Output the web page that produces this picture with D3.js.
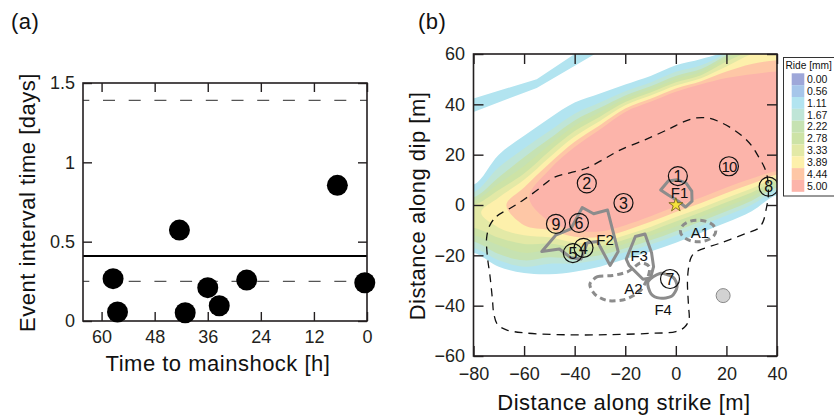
<!DOCTYPE html>
<html>
<head>
<meta charset="utf-8">
<script src="https://cdn.jsdelivr.net/npm/d3@7"></script>
<style>
  html, body { margin: 0; padding: 0; background: #fff; }
  svg { display: block; font-family: "Liberation Sans", Arial, Helvetica, sans-serif; }
</style>
</head>
<body>
<svg id="chart" width="834" height="416"></svg>
<script>
// ---------------- Panel (a): event interval times ----------------
const hoursToMainshock = [57.4, 56.4, 42.4, 41.1, 36.0, 33.4, 27.2, 6.7, 0.5];
const intervalDays     = [0.267, 0.057, 0.573, 0.052, 0.21, 0.096, 0.258, 0.855, 0.241];
const meanInterval = 0.41;
const intervalBounds = [1.39, 0.25];
const hourTicks = [60, 48, 36, 24, 12, 0];
const dayTicks = [0, 0.5, 1, 1.5];

// ---------------- Panel (b): slip on the fault plane ----------------
const strikeTicks = [-80, -60, -40, -20, 0, 20, 40];
const dipTicks = [-60, -40, -20, 0, 20, 40, 60];

const legendValues = ["0.00", "0.56", "1.11", "1.67", "2.22", "2.78", "3.33", "3.89", "4.44", "5.00"];
const legendColors = ["#9ea7d9", "#a6c6ea", "#b2e4f0", "#bfe5d7", "#c6e2b2", "#cde3a6", "#e3e9a6", "#fdf0ab", "#fec7a6", "#fcb4aa"];

// slip level contours: top and bottom edge (dip, m) at each strike column
const bandColumns = [-80, -70, -60, -50, -40, -30, -20, -10, 0, 10, 20, 30, 40];
const upper111 = [8, 20, 27.5, 34.5, 40.7, 44.3, 47.9, 51.3, 55.5, 58, 61.5, 70, 74];
const lower111 = [-19, -24.5, -27, -27.5, -26.5, -24.5, -21.5, -18.5, -15, -11, -7, -2.5, 4];
const upper167 = [5, 15, 22.5, 29.4, 36.3, 40.7, 45.2, 48.7, 52.9, 55.5, 60.5, 67, 71];
const lower167 = [-17, -22, -24.5, -23.3, -23.2, -21.7, -18.8, -15.7, -12.1, -8.2, -4.2, 0.1, 5.9];
const upper222 = [3, 11, 19, 26.3, 33.6, 38.6, 43.5, 47.2, 51.3, 54, 59.5, 65, 69];
const lower222 = [-14.5, -19.5, -22, -20.8, -21.2, -20, -17.2, -14, -10.4, -6.5, -2.5, 1.7, 7];
const upper278 = [1.5, 8.5, 15.5, 23.8, 31.5, 36.9, 42.2, 45.9, 50, 52.8, 58.5, 63, 67];
const lower278 = [-12, -16, -19, -18, -19.1, -18.2, -15.4, -12.2, -8.5, -4.7, -0.7, 3.4, 8.3];
const upper333 = [0, 6, 12.5, 21.4, 29.4, 35.1, 40.9, 44.7, 48.8, 51.6, 57, 61.5, 65];
const lower333 = [-9, -13, -15.5, -15.3, -16.9, -16.4, -13.7, -10.4, -6.6, -2.9, 1.1, 5, 9.5];
const upper389 = [null, 3, 10, 18.9, 27.2, 33.4, 39.6, 43.5, 47.5, 50.4, 55, 60, 62.5];
const lower389 = [null, -9, -12, -12.8, -14.9, -14.7, -12, -8.7, -4.8, -1.2, 2.8, 6.6, 10.7];
const tip389 = [-77, -3];
const upper444 = [null, null, 7, 16.5, 25.1, 31.7, 38.3, 42.2, 46.3, 49.2, 53, 56, 57.5];
const lower444 = [null, null, -8, -9.9, -12.6, -12.7, -10.2, -6.7, -2.8, 0.8, 4.8, 8.4, 12];
const tip444 = [-67, 0];
const upper500 = [null, null, null, 14, 23, 30, 37, 41, 45, 48, 50.5, 52, 53];
const lower500 = [null, null, null, -6.5, -10, -10.5, -8, -4.5, -0.5, 3, 7, 10.5, 13.5];
const tip500 = [-58, 3];
// detached low-slip strip in the upper left
const outerStrip = [[-80, 37], [-80, 42.3], [-55, 50], [-40, 60], [-32, 60], [-55, 46.5]];

// rupture area outline (dashed)
const ruptureOutline = [
  [-73.5, -8], [-70.8, -4.5], [-65, -1], [-60.3, 2], [-54, 6.5], [-48.5, 10.8], [-41.9, 12.8],
  [-35.3, 14.6], [-28, 18.5], [-22.1, 21.8], [-12, 26], [-2.3, 30.4], [3, 33], [8.2, 34.6],
  [13, 34.5], [17.4, 33], [22, 30.5], [26.6, 27.1], [30, 23.5], [32.5, 19.5], [35, 15],
  [36.2, 11], [36.6, 6.5], [36.5, 2.7], [35.9, -0.7], [34.5, -6.6], [32.6, -9.3], [28, -11.2],
  [17.4, -15.2], [8.2, -18.5], [6.2, -20.5], [5.2, -24], [4.6, -30], [5, -40], [5.2, -45.5],
  [3.5, -48.5], [0, -50.3], [-10, -51], [-25, -51.5], [-42, -51.6], [-60, -50.8], [-67, -49.6],
  [-70.5, -47.5], [-72, -43], [-72.5, -37.7], [-73.5, -28], [-74.5, -20.5], [-74.8, -13]
];

// foreshock patches (solid) and aseismic areas (dashed)
const patchF1 = [[-6, 6], [-3, 9.5], [0.5, 10], [4, 8.8], [6.3, 5.5], [6.4, 1.5], [3.8, -0.8], [1, 1.5], [-3, 4]];
const patchF2 = [[-37, -1], [-32.5, -3.5], [-27, -2], [-22.8, -18.5], [-26, -24], [-31, -14.5], [-35, -15],
                 [-37.5, -21.5], [-41.5, -21], [-46, -17.5], [-53, -18.5], [-47.5, -12], [-41.5, -9.5]];
const patchF3 = [[-16, -12.5], [-12.2, -11.5], [-9.6, -19], [-8.8, -24.5], [-10, -29], [-13, -29.5],
                 [-18.5, -24], [-19.6, -21.5], [-18, -17.5]];
const patchF4 = [[-11, -30.5], [-6.3, -27.2], [-1, -28.8], [0.5, -32.5], [-1.7, -36.3], [-6.3, -37], [-9.8, -35.3]];
const areaA2 = [[-34, -31.5], [-31, -28.5], [-25, -28], [-19, -26.5], [-14, -23], [-10.5, -24.5],
                [-11, -28.5], [-14, -34], [-20, -37.5], [-27, -38], [-32, -35.5]];
const areaA1 = { cx: 8.8, cy: -10.3, rx: 7, ry: 4.3 };

const patchLabels = ["F1", "F2", "F3", "F4", "A1", "A2"];
const patchLabelStrike = [1.5, -28, -14.5, -5, 9.5, -16.8];
const patchLabelDip = [5, -13.8, -20.3, -41.5, -11, -33.2];

const eventIds = ["1", "2", "3", "4", "5", "6", "7", "8", "9", "10"];
const eventStrike = [0.8, -35.2, -20.7, -36.5, -40.7, -38.3, -2.3, 36.7, -47.4, 21.0];
const eventDip = [11.5, 8.6, 0.8, -17.0, -19.1, -7.1, -29.4, 7.3, -7.5, 15.4];

const hypocenter = [0, 0];
const station = [18.7, -36];

// ------------------------------------------------------------------
const svg = d3.select("#chart");
const ink = "#231f20";
const fontAxis = 18;

function styleAxis(g, withLabels) {
  g.attr("font-family", null).attr("font-size", null);
  g.select(".domain").remove();
  g.selectAll(".tick line").attr("stroke", ink).attr("stroke-width", 1.4);
  if (withLabels) {
    g.selectAll(".tick text").attr("fill", ink).attr("font-size", fontAxis);
  } else {
    g.selectAll(".tick text").remove();
  }
}

function frame(g, x, y, tickLen, xTicks, yTicks, xFmt, yFmt, xPad, yPad) {
  const [x0, x1] = x.range();
  const [y0, y1] = y.range();
  g.append("g").attr("transform", `translate(0,${y0})`)
    .call(d3.axisBottom(x).tickValues(xTicks).tickSizeInner(-tickLen).tickSizeOuter(0).tickPadding(xPad).tickFormat(xFmt))
    .call(s => styleAxis(s, true));
  g.append("g").attr("transform", `translate(0,${y1})`)
    .call(d3.axisTop(x).tickValues(xTicks).tickSizeInner(-tickLen).tickSizeOuter(0))
    .call(s => styleAxis(s, false));
  g.append("g").attr("transform", `translate(${x0},0)`)
    .call(d3.axisLeft(y).tickValues(yTicks).tickSizeInner(-tickLen).tickSizeOuter(0).tickPadding(yPad).tickFormat(yFmt))
    .call(s => styleAxis(s, true));
  g.append("g").attr("transform", `translate(${x1},0)`)
    .call(d3.axisRight(y).tickValues(yTicks).tickSizeInner(-tickLen).tickSizeOuter(0))
    .call(s => styleAxis(s, false));
  g.append("rect")
    .attr("x", x0).attr("y", y1).attr("width", x1 - x0).attr("height", y0 - y1)
    .attr("fill", "none").attr("stroke", ink).attr("stroke-width", 1.6);
}

function label(text, x, y, size, rotate, anchor) {
  const t = svg.append("text").text(text)
    .attr("font-size", size).attr("fill", "#111")
    .attr("letter-spacing", size > 20 ? 0.5 : 0)
    .attr("text-anchor", anchor || "middle");
  if (rotate) t.attr("transform", `translate(${x},${y}) rotate(-90)`);
  else t.attr("x", x).attr("y", y);
  return t;
}

// ---------------- Panel (a) ----------------
const xA = d3.scaleLinear().domain([64.2, 0]).range([83, 367]);
const yA = d3.scaleLinear().domain([0, 1.5]).range([321, 83]);
const gA = svg.append("g");

gA.selectAll("line.bound").data(intervalBounds).join("line")
  .attr("class", "bound")
  .attr("x1", xA.range()[0]).attr("x2", xA.range()[1])
  .attr("y1", d => yA(d)).attr("y2", d => yA(d))
  .attr("stroke", "#555").attr("stroke-width", 1.3)
  .attr("stroke-dasharray", "12,13.7").attr("stroke-dashoffset", 5.7);

gA.append("line")
  .attr("x1", xA.range()[0]).attr("x2", xA.range()[1])
  .attr("y1", yA(meanInterval)).attr("y2", yA(meanInterval))
  .attr("stroke", "#000").attr("stroke-width", 2);

frame(gA, xA, yA, 9, hourTicks, dayTicks, d3.format("d"), d => String(d), 9.5, 8);

gA.selectAll("circle.ev").data(d3.zip(hoursToMainshock, intervalDays)).join("circle")
  .attr("class", "ev")
  .attr("cx", d => xA(d[0])).attr("cy", d => yA(d[1])).attr("r", 10.5)
  .attr("fill", "#000");

label("(a)", 11, 29, 22, false, "start");
label("Event interval time [days]", 35, 202.5, 22, true);
label("Time to mainshock [h]", 218, 371, 22, false);

// ---------------- Panel (b) ----------------
const xB = d3.scaleLinear().domain([-80, 40]).range([473.5, 777]);
const yB = d3.scaleLinear().domain([-60, 60]).range([356, 54]);
const gB = svg.append("g");

svg.append("defs").append("clipPath").attr("id", "plotB")
  .append("rect")
  .attr("x", xB.range()[0]).attr("y", yB.range()[1])
  .attr("width", xB.range()[1] - xB.range()[0]).attr("height", yB.range()[0] - yB.range()[1]);

const colorOf = d3.scaleOrdinal().domain(legendValues).range(legendColors);
const slipBands = [
  { level: "1.11", upper: upper111, lower: lower111 },
  { level: "1.67", upper: upper167, lower: lower167 },
  { level: "2.22", upper: upper222, lower: lower222 },
  { level: "2.78", upper: upper278, lower: lower278 },
  { level: "3.33", upper: upper333, lower: lower333 },
  { level: "3.89", upper: upper389, lower: lower389, tip: tip389 },
  { level: "4.44", upper: upper444, lower: lower444, tip: tip444 },
  { level: "5.00", upper: upper500, lower: lower500, tip: tip500 }
];

// closed outline of one slip level: top edge left-to-right, bottom edge back,
// run a little past the frame where the level reaches the edge of the plot
function bandOutline(b) {
  const n = bandColumns.length;
  const first = b.upper.findIndex(v => v != null);
  const pts = [];
  if (first === 0) pts.push([bandColumns[0] - 10, b.upper[0]]);
  for (let i = first; i < n; i++) pts.push([bandColumns[i], b.upper[i]]);
  pts.push([bandColumns[n - 1] + 10, b.upper[n - 1]]);
  pts.push([bandColumns[n - 1] + 10, b.lower[n - 1]]);
  for (let i = n - 1; i >= first; i--) pts.push([bandColumns[i], b.lower[i]]);
  if (first === 0) pts.push([bandColumns[0] - 10, b.lower[0]]);
  else pts.push(b.tip);
  return pts;
}

const smoothClosed = d3.line().x(d => xB(d[0])).y(d => yB(d[1])).curve(d3.curveCatmullRomClosed.alpha(0.5));
const straightClosed = d3.line().x(d => xB(d[0])).y(d => yB(d[1])).curve(d3.curveLinearClosed);
const cardinalClosed = d3.line().x(d => xB(d[0])).y(d => yB(d[1])).curve(d3.curveCardinalClosed.tension(0.2));

const slipLayer = gB.append("g").attr("clip-path", "url(#plotB)");
slipLayer.append("path")
  .attr("d", straightClosed(outerStrip))
  .attr("fill", colorOf("1.11"));
slipLayer.selectAll("path.band").data(slipBands).join("path")
  .attr("class", "band")
  .attr("d", d => smoothClosed(bandOutline(d)))
  .attr("fill", d => colorOf(d.level));

const overlay = gB.append("g").attr("clip-path", "url(#plotB)");

overlay.append("path")
  .attr("d", smoothClosed(ruptureOutline))
  .attr("fill", "none").attr("stroke", "#111").attr("stroke-width", 1.3)
  .attr("stroke-dasharray", "8,6");

const grey = "#8c8c8c";
overlay.selectAll("path.patch").data([patchF1, patchF2, patchF3]).join("path")
  .attr("class", "patch")
  .attr("d", d => straightClosed(d))
  .attr("fill", "none").attr("stroke", grey).attr("stroke-width", 3).attr("stroke-linejoin", "round");
overlay.append("path")
  .attr("d", cardinalClosed(patchF4))
  .attr("fill", "none").attr("stroke", grey).attr("stroke-width", 3);
overlay.append("path")
  .attr("d", cardinalClosed(areaA2))
  .attr("fill", "none").attr("stroke", grey).attr("stroke-width", 3).attr("stroke-dasharray", "6,4");
overlay.append("ellipse")
  .attr("cx", xB(areaA1.cx)).attr("cy", yB(areaA1.cy))
  .attr("rx", xB(areaA1.cx + areaA1.rx) - xB(areaA1.cx))
  .attr("ry", yB(areaA1.cy) - yB(areaA1.cy + areaA1.ry))
  .attr("fill", "none").attr("stroke", grey).attr("stroke-width", 3).attr("stroke-dasharray", "6,4");

overlay.append("circle")
  .attr("cx", xB(station[0])).attr("cy", yB(station[1])).attr("r", 7)
  .attr("fill", "#d2d2d2").attr("stroke", "#8a8a8a").attr("stroke-width", 1);

overlay.selectAll("text.patchlabel").data(patchLabels).join("text")
  .attr("class", "patchlabel")
  .attr("x", (d, i) => xB(patchLabelStrike[i])).attr("y", (d, i) => yB(patchLabelDip[i]))
  .attr("dy", "0.36em").attr("text-anchor", "middle")
  .attr("font-size", 15).attr("fill", "#111")
  .text(d => d);

const evG = overlay.selectAll("g.event").data(eventIds).join("g")
  .attr("class", "event")
  .attr("transform", (d, i) => `translate(${xB(eventStrike[i])},${yB(eventDip[i])})`);
evG.append("circle").attr("r", 9.5)
  .attr("fill", "none").attr("stroke", "#111").attr("stroke-width", 1.2);
evG.append("text").text(d => d)
  .attr("text-anchor", "middle").attr("dy", "0.36em")
  .attr("font-size", d => d.length > 1 ? 15 : 16)
  .attr("letter-spacing", d => d.length > 1 ? -0.8 : 0)
  .attr("fill", "#111");

overlay.append("path")
  .attr("d", d3.symbol(d3.symbolStar).size(60)())
  .attr("transform", `translate(${xB(hypocenter[0])},${yB(hypocenter[1])})`)
  .attr("fill", "#f6e23c").attr("stroke", "#6a5c10").attr("stroke-width", 0.8);

frame(gB, xB, yB, 10, strikeTicks, dipTicks, d3.format("d"), d3.format("d"), 11, 8.5);

label("(b)", 418, 29, 22, false, "start");
label("Distance along dip [m]", 425, 206, 22, true);
label("Distance along strike [m]", 624, 410, 22, false);

// legend
const lg = svg.append("g");
lg.append("rect")
  .attr("x", 783.5).attr("y", 57.5).attr("width", 60).attr("height", 138.5)
  .attr("fill", "#fff").attr("stroke", "#333").attr("stroke-width", 1);
lg.append("text").text("Ride [mm]")
  .attr("x", 785.5).attr("y", 68.5).attr("font-size", 10.2).attr("fill", "#111");
const rowH = 11.85;
lg.selectAll("rect.sw").data(legendValues).join("rect")
  .attr("class", "sw")
  .attr("x", 791.7).attr("y", (d, i) => 73.3 + i * rowH)
  .attr("width", 12.6).attr("height", rowH)
  .attr("fill", d => colorOf(d));
lg.selectAll("text.lv").data(legendValues).join("text")
  .attr("class", "lv")
  .attr("x", 807).attr("y", (d, i) => 73.3 + (i + 0.5) * rowH)
  .attr("dy", "0.36em").attr("font-size", 10.5).attr("fill", "#111")
  .text(d => d);
</script>
</body>
</html>
